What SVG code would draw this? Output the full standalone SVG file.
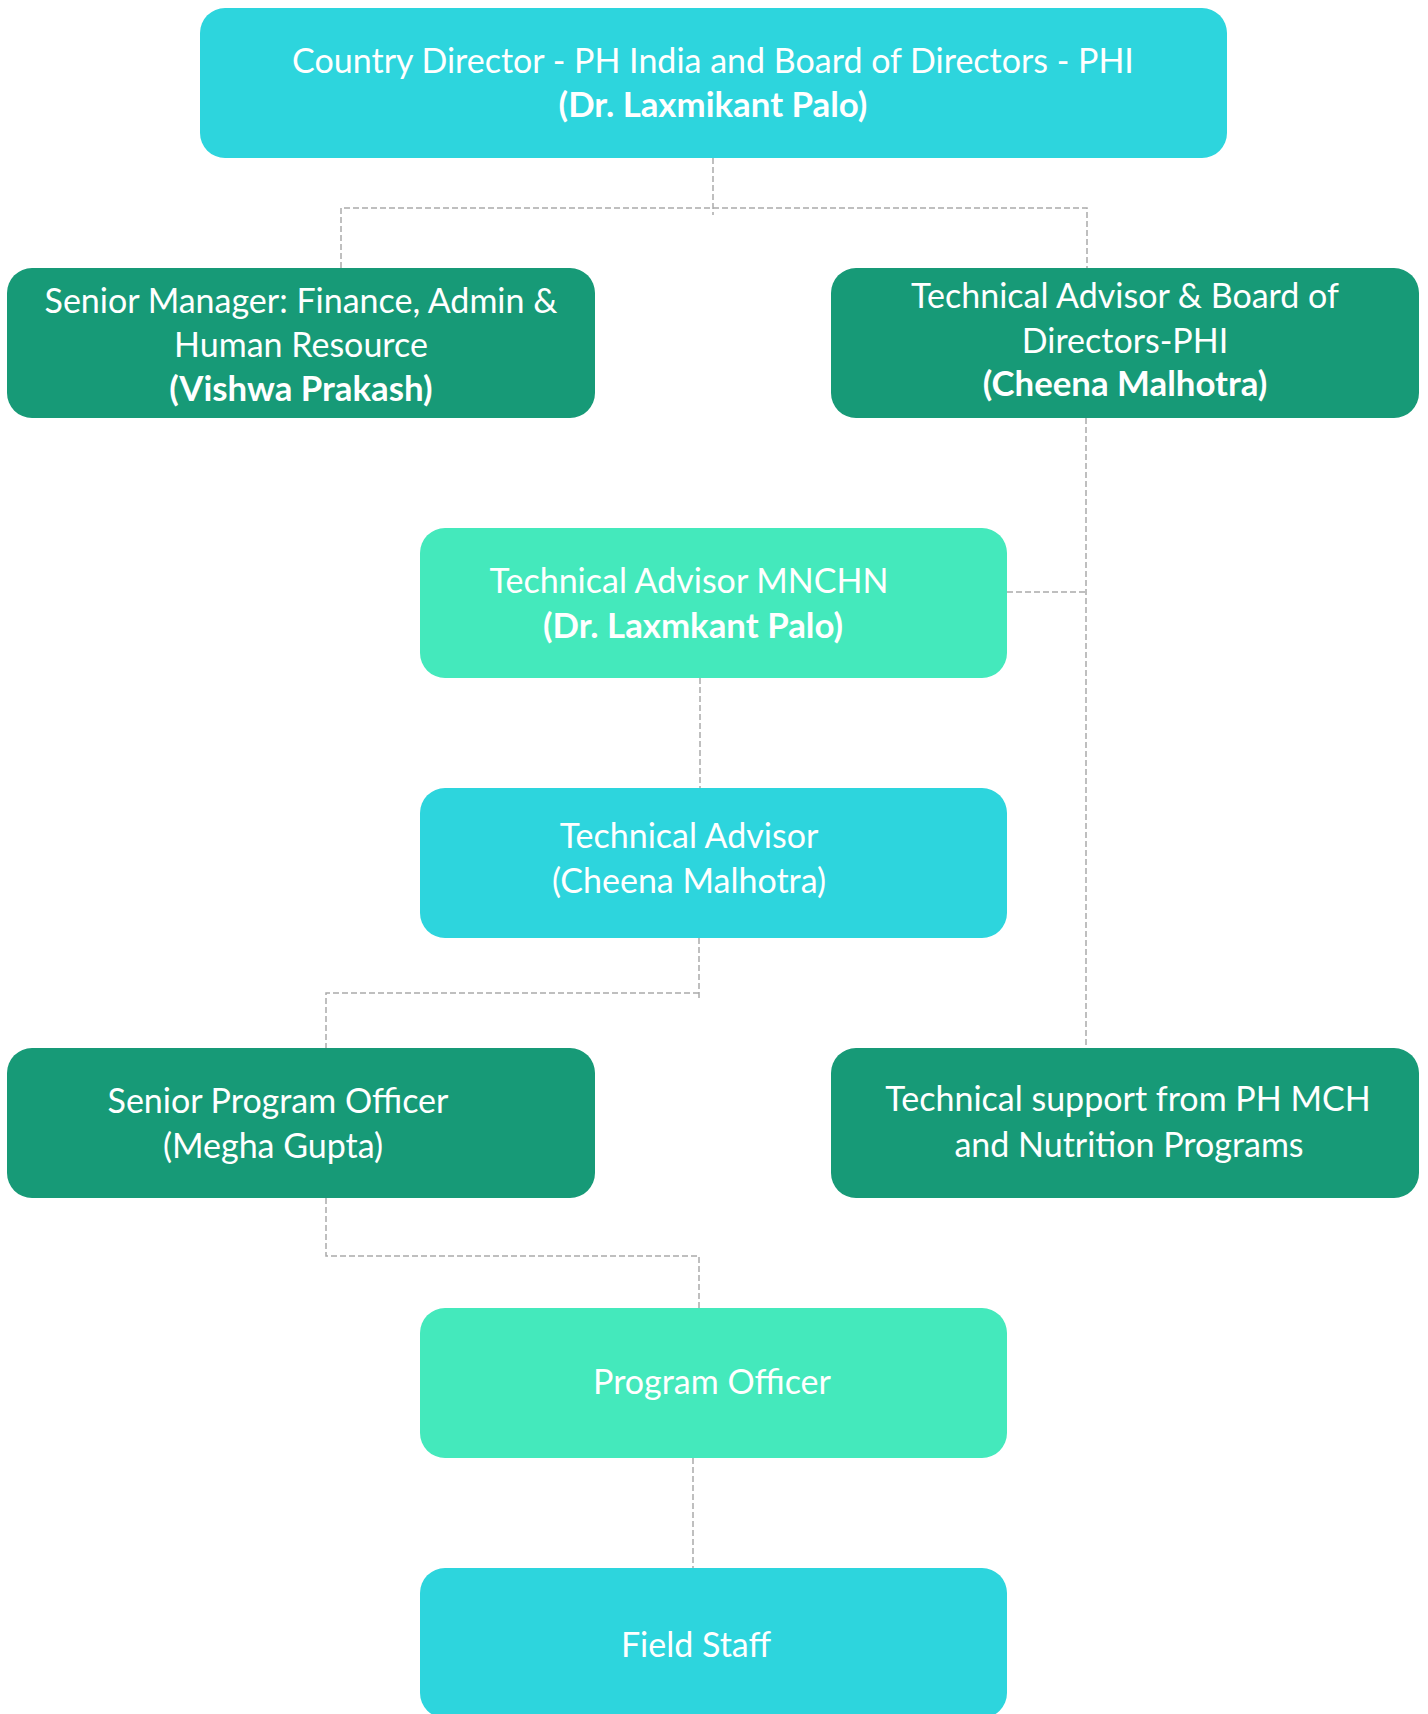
<svg xmlns="http://www.w3.org/2000/svg" width="1428" height="1714" viewBox="0 0 1428 1714">
<style>
.box{stroke:none}
.cyan{fill:#2dd5dd}
.green{fill:#179a77}
.mint{fill:#44e9bc}
text{font-family:Lato,"Open Sans",sans-serif;font-size:34px;fill:#ffffff;text-anchor:middle}
.b{font-weight:bold;font-size:34.8px}
.conn{fill:none;stroke:#aaaaaa;stroke-width:1.5;stroke-dasharray:6 3}
</style>
<rect width="1428" height="1714" fill="#ffffff"/>
<g id="connectors">
<path class="conn" d="M713,158 V215"/>
<path class="conn" d="M341,268 V208 H1087 V268"/>
<path class="conn" d="M1086,418 V1048"/>
<path class="conn" d="M1007,592 H1086"/>
<path class="conn" d="M700,678 V788"/>
<path class="conn" d="M699,938 V999 M699,993 H326 V1048"/>
<path class="conn" d="M326,1198 V1256 H699 V1308"/>
<path class="conn" d="M693,1458 V1568"/>
</g>
<g id="country-director">
<rect class="box cyan" x="200" y="8" width="1027" height="150" rx="25"/>
<text x="713" y="73">Country Director - PH India and Board of Directors - PHI</text>
<text class="b" x="713" y="117">(Dr. Laxmikant Palo)</text>
</g>
<g id="senior-manager">
<rect class="box green" x="7" y="268" width="588" height="150" rx="25"/>
<text x="301" y="313">Senior Manager: Finance, Admin &amp;</text>
<text x="301" y="357">Human Resource</text>
<text class="b" x="301" y="401">(Vishwa Prakash)</text>
</g>
<g id="technical-advisor-board">
<rect class="box green" x="831" y="268" width="588" height="150" rx="25"/>
<text x="1125" y="308">Technical Advisor &amp; Board of</text>
<text x="1125" y="353">Directors-PHI</text>
<text class="b" x="1125" y="396">(Cheena Malhotra)</text>
</g>
<g id="technical-advisor-mnchn">
<rect class="box mint" x="420" y="528" width="587" height="150" rx="25"/>
<text x="689" y="593">Technical Advisor MNCHN</text>
<text class="b" x="693" y="638">(Dr. Laxmkant Palo)</text>
</g>
<g id="technical-advisor">
<rect class="box cyan" x="420" y="788" width="587" height="150" rx="25"/>
<text x="689" y="848">Technical Advisor</text>
<text x="689" y="893">(Cheena Malhotra)</text>
</g>
<g id="senior-program-officer">
<rect class="box green" x="7" y="1048" width="588" height="150" rx="25"/>
<text x="278" y="1113">Senior Program Officer</text>
<text x="273" y="1158">(Megha Gupta)</text>
</g>
<g id="technical-support">
<rect class="box green" x="831" y="1048" width="588" height="150" rx="25"/>
<text x="1128" y="1111">Technical support from PH MCH</text>
<text x="1129" y="1157">and Nutrition Programs</text>
</g>
<g id="program-officer">
<rect class="box mint" x="420" y="1308" width="587" height="150" rx="25"/>
<text x="712" y="1394">Program Officer</text>
</g>
<g id="field-staff">
<rect class="box cyan" x="420" y="1568" width="587" height="150" rx="25"/>
<text x="696" y="1657">Field Staff</text>
</g>
</svg>
